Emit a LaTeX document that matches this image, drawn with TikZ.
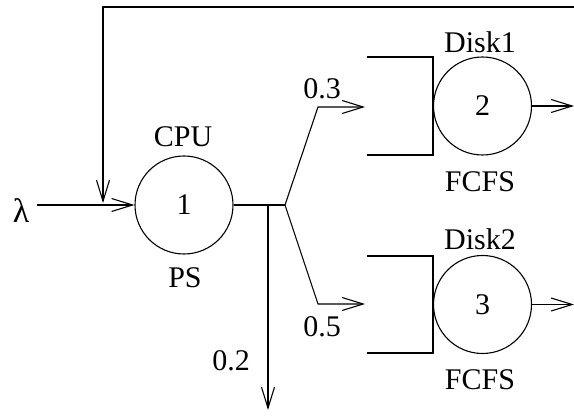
\documentclass[tikz,border=0pt]{standalone}
\usepackage{fontspec}
\setmainfont{Liberation Serif}
\usetikzlibrary{arrows.meta}
\begin{document}
\begin{tikzpicture}[x=1pt,y=-1pt,line width=1.1pt,
  txt/.style={inner sep=0pt,font=\fontsize{30}{30}\selectfont},
  station/.style={circle,draw,minimum size=98pt,inner sep=0pt,font=\fontsize{30}{30}\selectfont},
  arr/.style={-{Straight Barb[length=21pt,width=13pt]}},
  queuebox/.style={draw}]
\useasboundingbox (0,0) rectangle (574,417);
% stations
\node[station] (cpu) at (184,205) {1};
\node[station] (d1) at (482.5,106) {2};
\node[station] (d2) at (482.5,304.5) {3};
% labels
\node[txt,font=\fontsize{34}{34}\selectfont] (lam) at (21,211) {λ};
\node[txt] (cpul) at (183,137) {CPU};
\node[txt] (psl) at (185,278) {PS};
\node[txt] (d1l) at (480,42) {Disk1};
\node[txt] (f1l) at (480,182) {FCFS};
\node[txt] (d2l) at (480,239) {Disk2};
\node[txt] (f2l) at (480,380) {FCFS};
\node[txt] (p3) at (322,89) {0.3};
\node[txt] (p5) at (322,327) {0.5};
\node[txt] (p2) at (231,361) {0.2};
% queue boxes
\draw[queuebox] (367,57) -- (433,57) -- (433,155) -- (367,155);
\draw[queuebox] (367,256) -- (433,256) -- (433,353) -- (367,353);
% coordinates
\coordinate (lamstart) at (37,205);
\coordinate (fbstart) at (574,7);
\coordinate (fbcorner) at (103,7);
\coordinate (fbend) at (103,203);
\coordinate (drop) at (268,205);
\coordinate (dropend) at (268,410);
\coordinate (junc) at (285,205);
\coordinate (up) at (318,107);
\coordinate (uptip) at (365,107);
\coordinate (dn) at (318,304);
\coordinate (dntip) at (365,304);
\coordinate (out1) at (574,106);
\coordinate (out2) at (574,304.5);
% connectors
\draw[arr] (lamstart) -- (cpu.west);
\draw[arr] (fbstart) -- (fbcorner) -- (fbend);
\draw (cpu.east) -- (junc);
\draw[arr] (drop) -- (dropend);
\draw[arr] (junc) -- (up) -- (uptip);
\draw[arr] (junc) -- (dn) -- (dntip);
\draw[arr] (d1.east) -- (out1);
\draw[arr] (d2.east) -- (out2);
\end{tikzpicture}
\end{document}
